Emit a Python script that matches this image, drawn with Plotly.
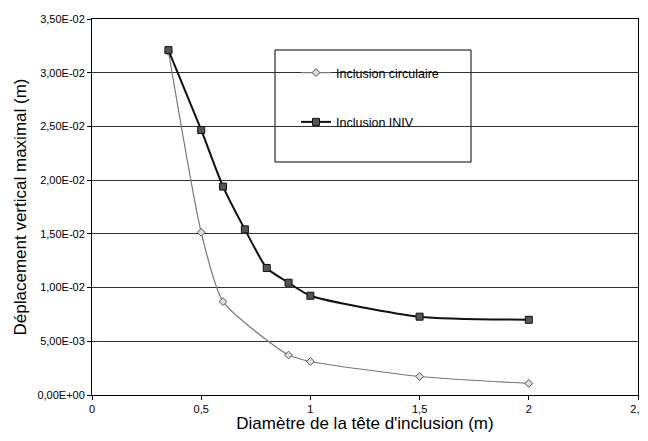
import plotly.graph_objects as go

# Data
x_circ = [0.35, 0.5, 0.6, 0.9, 1.0, 1.5, 2.0]
y_circ = [0.0320, 0.01514, 0.00869, 0.00372, 0.00312, 0.00172, 0.00108]
x_iniv = [0.35, 0.5, 0.6, 0.7, 0.8, 0.9, 1.0, 1.5, 2.0]
y_iniv = [0.0321, 0.02467, 0.0194, 0.01542, 0.01182, 0.01045, 0.00924, 0.00729, 0.00700]
names = ["Inclusion circulaire", "Inclusion INIV"]

y_tickvals = [0, 0.005, 0.010, 0.015, 0.020, 0.025, 0.030, 0.035]
y_ticktext = ["0,00E+00", "5,00E-03", "1,00E-02", "1,50E-02", "2,00E-02", "2,50E-02", "3,00E-02", "3,50E-02"]
x_tickvals = [0, 0.5, 1, 1.5, 2, 2.5]
x_ticktext = ["0", "0,5", "1", "1,5", "2", "2,5"]

FONT = "Liberation Sans, Arial, sans-serif"

# page body has an 8px default margin; keep the figure inside the window
OFF = 8
PL, PR, PT, PB = 92 - OFF, 638 - OFF, 19 - OFF, 395 - OFF
W, H = 648 - OFF, 441 - 2 * OFF

styles = [
    dict(line=dict(color="#777777", width=1.2),
         marker=dict(symbol="diamond", size=6, color="#dddddd", line=dict(color="#555555", width=1))),
    dict(line=dict(color="#111111", width=2),
         marker=dict(symbol="square", size=7, color="#555555", line=dict(color="#111111", width=1))),
]

fig = go.Figure()
for i, (xs, ys) in enumerate([(x_circ, y_circ), (x_iniv, y_iniv)]):
    st = styles[i]
    fig.add_trace(go.Scatter(
        x=xs, y=ys, name=names[i], mode="lines+markers",
        line=dict(**st["line"], shape="spline", smoothing=0.6), marker=st["marker"],
        legendgroup=names[i],
    ))

fig.add_shape(type="rect", xref="paper", yref="paper",
              x0=(275 - 92) / 546, x1=(471 - 92) / 546,
              y0=(395 - 162) / 376, y1=(395 - 50) / 376,
              line=dict(color="black", width=1), fillcolor="white", layer="between")

fig.update_layout(
    width=W, height=H,
    margin=dict(l=PL, r=W - PR, t=PT, b=H - PB, autoexpand=False),
    paper_bgcolor="white", plot_bgcolor="white",
    font=dict(family=FONT, color="black", size=11),
    showlegend=True,
    legend=dict(x=(296 - 92) / 546, y=(395 - 58) / 376, xanchor="left", yanchor="top",
                bgcolor="rgba(0,0,0,0)", borderwidth=0, itemwidth=30,
                font=dict(size=12.5, family=FONT), tracegroupgap=30,
                traceorder="grouped"),
    xaxis=dict(range=[0, 2.5], tickvals=x_tickvals, ticktext=x_ticktext,
               showgrid=False, zeroline=False, showline=True, linecolor="black", linewidth=1,
               mirror=True, ticks="outside", ticklen=4, tickcolor="black", automargin=False,
               ticklabeloverflow="allow",
               title=dict(text="Diamètre de la tête d'inclusion (m)", font=dict(size=17), standoff=4)),
    yaxis=dict(range=[0, 0.035], tickvals=y_tickvals, ticktext=y_ticktext,
               showgrid=True, gridcolor="#333333", gridwidth=1, zeroline=False,
               showline=True, linecolor="black", linewidth=1, mirror=True, automargin=False,
               ticks="outside", ticklen=4, tickcolor="black", tickfont=dict(size=11),
               title=dict(text="Déplacement vertical maximal (m)", font=dict(size=17), standoff=6)),
)

fig.write_html("out.html")
